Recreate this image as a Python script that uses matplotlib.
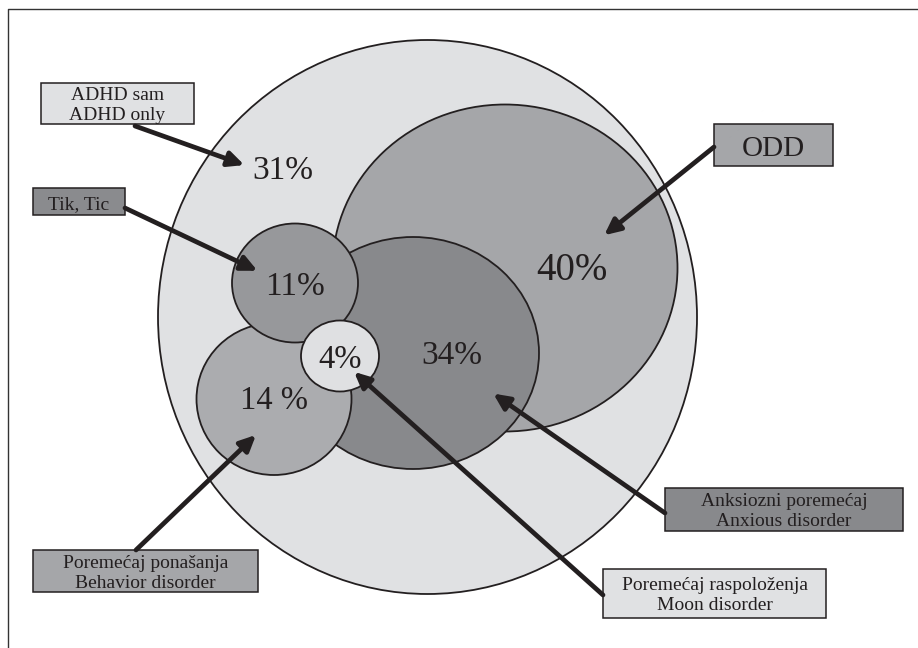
import matplotlib
matplotlib.use("Agg")
import matplotlib.pyplot as plt
from matplotlib.patches import Ellipse, Rectangle, FancyArrowPatch

# ---------------- data ----------------
groups = ["ADHD only", "ODD", "Anxious disorder", "Behavior disorder", "Tic", "Mood disorder"]
percent_labels = ["31%", "40%", "34%", "14 %", "11%", "4%"]
box_lines = [
    ["ADHD sam", "ADHD only"],
    ["ODD"],
    ["Anksiozni poremećaj", "Anxious disorder"],
    ["Poremećaj ponašanja", "Behavior disorder"],
    ["Tik, Tic"],
    ["Poremećaj raspoloženja", "Moon disorder"],
]

# ---------------- layout (pixels, y downwards) ----------------
ell_center = [(427.5, 317), (505, 268), (413, 353), (274, 399), (295, 283), (340, 356)]
ell_size = [(539, 554), (345, 327), (252, 232), (155, 152), (126, 119), (78, 71)]
ell_color = ["#e0e1e3", "#a5a6a9", "#88898c", "#abacaf", "#97989b", "#dfe0e2"]
ell_z = [1, 2, 3, 4, 5, 6]
pct_pos = [(283, 171), (572, 271), (452, 356), (274, 401), (295, 287), (340, 360)]
pct_size = [24, 28, 24, 23.5, 24, 23.5]

box_rect = [(41, 83, 153, 41), (714, 124, 119, 42), (665, 488, 238, 43),
            (33, 550, 225, 42), (33, 188, 92, 27), (603, 569, 223, 49)]
box_color = ["#e0e1e3", "#a5a6a9", "#88898c", "#a5a6a9", "#8a8b8e", "#e0e1e3"]
box_font = [14, 21, 14, 14, 14, 14]
arrow_start = [(135, 126), (714, 147), (665, 513), (136, 550), (125, 208), (603, 595)]
arrow_end = [(247, 166), (602, 237), (491, 392), (258, 433), (260, 272), (352, 370)]

ink = "#231f20"
serif = ["Liberation Serif", "DejaVu Serif"]

fig = plt.figure(figsize=(9.18, 6.48), dpi=100)
ax = fig.add_axes([0, 0, 1, 1])
ax.set_xlim(0, 918)
ax.set_ylim(648, 0)
ax.axis("off")

# frame (left and top edges)
ax.plot([8, 8, 918], [648, 9, 9], color="#333333", lw=1.0, zorder=0)

for (c, s, col, z) in zip(ell_center, ell_size, ell_color, ell_z):
    ax.add_patch(Ellipse(c, s[0], s[1], facecolor=col, edgecolor=ink, lw=1.3, zorder=z))

for txt, p, fs in zip(percent_labels, pct_pos, pct_size):
    ax.text(p[0], p[1], txt, ha="center", va="center", fontsize=fs, family=serif,
            color=ink, zorder=20)

for lines, r, col, fs in zip(box_lines, box_rect, box_color, box_font):
    x, y, w, h = r
    ax.add_patch(Rectangle((x, y), w, h, facecolor=col, edgecolor=ink, lw=1.1, zorder=10))
    cx, cy = x + w / 2, y + h / 2
    if len(lines) == 1:
        ax.text(cx, cy + 1.5, lines[0], ha="center", va="center_baseline", fontsize=fs,
                family=serif, color=ink, zorder=11)
    else:
        for i, ln in enumerate(lines):
            ax.text(cx, cy - 3 + 19.5 * i, ln, ha="center", va="baseline", fontsize=fs,
                    family=serif, color=ink, zorder=11)

for s, e in zip(arrow_start, arrow_end):
    ax.add_patch(FancyArrowPatch(s, e, arrowstyle="-|>,head_length=9.5,head_width=4.5",
                                 mutation_scale=1, lw=3.4, color=ink,
                                 shrinkA=0, shrinkB=2, zorder=15))

fig.savefig("out.png", dpi=100)
